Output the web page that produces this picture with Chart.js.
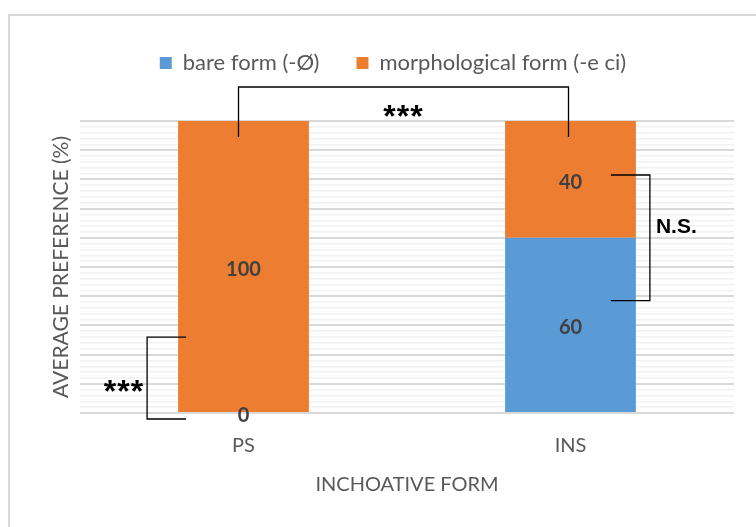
<!DOCTYPE html>
<html>
<head>
<meta charset="utf-8">
<script src="https://cdn.jsdelivr.net/npm/chart.js@4/dist/chart.umd.min.js"></script>
<style>
  html, body { margin: 0; padding: 0; background: #fff; }
  #wrap { position: relative; width: 756px; height: 527px; }
  #frame { position: absolute; left: 8px; top: 14px; width: 760px; height: 530px; border: 2px solid #d9d9d9; box-sizing: border-box; }
  canvas { position: absolute; left: 0; top: 0; }
</style>
</head>
<body>
<div id="wrap">
  <div id="frame"></div>
  <canvas id="myChart" width="756" height="527"></canvas>
</div>
<script>
// values
const categories = ['PS', 'INS'];
const seriesNames = ['bare form (-Ø)', 'morphological form (-e ci)'];
const bareForm = [0, 60];
const morphForm = [100, 40];
const colours = ['#5B9BD5', '#ED7D31'];

const FONT = 'Lato, "Open Sans", sans-serif';
const SIGN_FONT = '"Liberation Sans", Arial, sans-serif';

// legend gets extra height so the plot starts lower down,
// and is nudged right to sit over the plot like in the original
const legendSpace = {
  id: 'legendSpace',
  beforeInit(chart) {
    const fit = chart.legend.fit;
    chart.legend.fit = function () {
      fit.bind(chart.legend)();
      this.height = 106;
    };
  },
  afterLayout(chart) {
    chart.legend.left += 26;
    chart.legend.right += 26;
  }
};

// value labels in the middle of each segment
const segmentLabels = {
  id: 'segmentLabels',
  afterDatasetsDraw(chart) {
    const ctx = chart.ctx;
    ctx.save();
    ctx.font = 'bold 20px ' + FONT;
    ctx.fillStyle = '#404040';
    ctx.textAlign = 'center';
    ctx.textBaseline = 'middle';
    chart.data.datasets.forEach(function (ds, i) {
      chart.getDatasetMeta(i).data.forEach(function (bar, j) {
        const mid = (bar.y + bar.base) / 2;
        ctx.fillText(String(ds.data[j]), bar.x, mid + 3);
      });
    });
    ctx.restore();
  }
};

// asterisks sit high in the font, so put the baseline below the wanted centre
function stars(ctx, text, x, yMid, align) {
  ctx.font = 'bold 32px ' + SIGN_FONT;
  ctx.letterSpacing = '1px';
  ctx.textAlign = align;
  ctx.textBaseline = 'alphabetic';
  ctx.fillText(text, x, yMid + 18);
  ctx.letterSpacing = '0px';
}

// significance brackets
const brackets = {
  id: 'brackets',
  afterDraw(chart) {
    const ctx = chart.ctx;
    const x = chart.scales.x;
    const y = chart.scales.y;
    const bars = chart.getDatasetMeta(1).data;
    const half = bars[0].width / 2;
    ctx.save();
    ctx.strokeStyle = '#000';
    ctx.lineWidth = 1.3;

    // top: PS vs INS
    const xa = x.getPixelForValue(0) - 5, xb = x.getPixelForValue(1) - 2;
    const yTop = y.getPixelForValue(100) - 34, yEnd = y.getPixelForValue(94.5);
    ctx.beginPath();
    ctx.moveTo(xa, yEnd); ctx.lineTo(xa, yTop); ctx.lineTo(xb, yTop); ctx.lineTo(xb, yEnd);
    ctx.stroke();

    // left: inside PS
    const l0 = x.getPixelForValue(0) - half;
    ctx.beginPath();
    ctx.moveTo(l0 + 8, y.getPixelForValue(26)); ctx.lineTo(l0 - 31, y.getPixelForValue(26));
    ctx.lineTo(l0 - 31, y.getPixelForValue(0) + 6); ctx.lineTo(l0 + 8, y.getPixelForValue(0) + 6);
    ctx.stroke();

    // right: within INS
    const r1 = x.getPixelForValue(1) + half;
    ctx.beginPath();
    ctx.moveTo(r1 - 25, y.getPixelForValue(81.5)); ctx.lineTo(r1 + 14, y.getPixelForValue(81.5));
    ctx.lineTo(r1 + 14, y.getPixelForValue(38.5)); ctx.lineTo(r1 - 25, y.getPixelForValue(38.5));
    ctx.stroke();

    ctx.fillStyle = '#000';
    stars(ctx, '***', (xa + xb) / 2, yTop + 22, 'center');
    stars(ctx, '***', l0 - 34, y.getPixelForValue(10), 'right');
    ctx.font = 'bold 21px ' + SIGN_FONT;
    ctx.textAlign = 'left';
    ctx.textBaseline = 'middle';
    ctx.fillText('N.S.', r1 + 20, y.getPixelForValue(63.8));
    ctx.restore();
  }
};

const ctx = document.getElementById('myChart').getContext('2d');
const myChart = new Chart(ctx, {
  type: 'bar',
  data: {
    labels: categories,
    datasets: [{
      label: seriesNames[0],
      data: bareForm,
      backgroundColor: colours[0]
    }, {
      label: seriesNames[1],
      data: morphForm,
      backgroundColor: colours[1]
    }]
  },
  options: {
    responsive: false,
    animation: false,
    layout: { padding: { left: 0, right: 22, top: 15, bottom: 30 } },
    datasets: { bar: { categoryPercentage: 0.4, barPercentage: 1 } },
    plugins: {
      legend: {
        position: 'top',
        labels: {
          boxWidth: 12, boxHeight: 12, padding: 37,
          color: '#595959',
          font: { family: FONT, size: 22 }
        }
      },
      tooltip: { enabled: false }
    },
    scales: {
      x: {
        stacked: true,
        grid: { display: false },
        border: { display: false },
        ticks: { color: '#595959', font: { family: FONT, size: 20 }, padding: 13 },
        title: {
          display: true, text: 'INCHOATIVE FORM', color: '#595959',
          font: { family: FONT, size: 20 }, padding: { top: 2, bottom: 0 }
        }
      },
      y: {
        stacked: true,
        min: 0, max: 100,
        afterFit(scale) { scale.width = 80; },
        ticks: { display: false, stepSize: 2 },
        border: { display: false },
        grid: {
          drawTicks: false,
          color(c) { return c.tick.value % 10 === 0 ? '#d9d9d9' : '#f2f2f2'; },
          lineWidth(c) { return c.tick.value % 10 === 0 ? 2 : 1.5; }
        },
        title: {
          display: true, text: 'AVERAGE PREFERENCE (%)', color: '#595959',
          font: { family: FONT, size: 21 }, padding: { top: 49, bottom: 0 }
        }
      }
    }
  },
  plugins: [legendSpace, segmentLabels, brackets]
});
</script>
</body>
</html>
